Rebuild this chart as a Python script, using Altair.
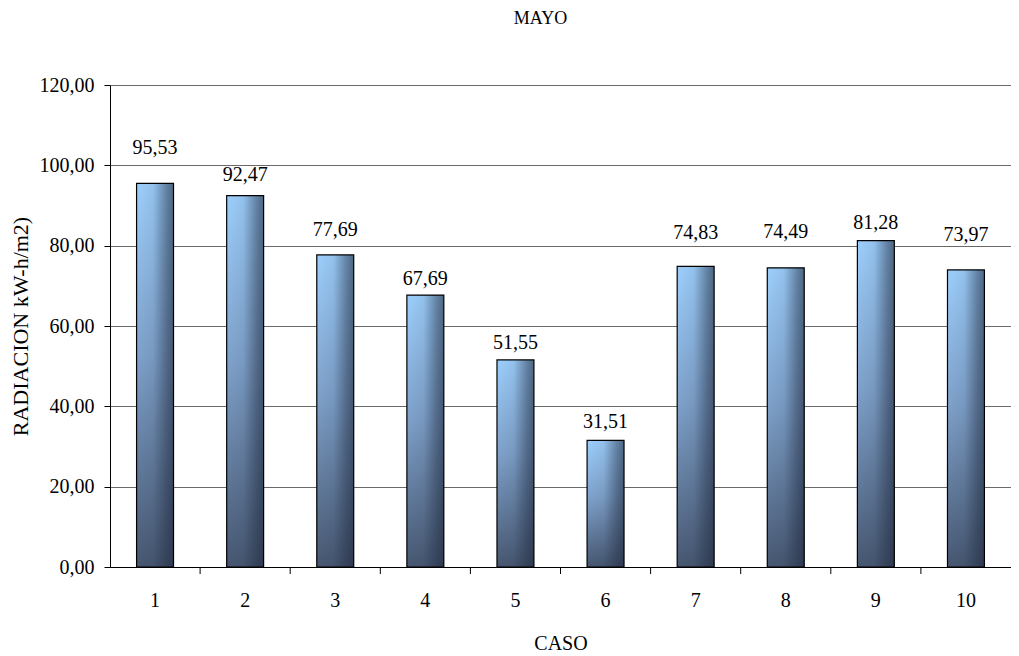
import altair as alt
import pandas as pd

casos = [1, 2, 3, 4, 5, 6, 7, 8, 9, 10]
radiacion = [95.53, 92.47, 77.69, 67.69, 51.55, 31.51, 74.83, 74.49, 81.28, 73.97]
# height (in data units) where each value label sits
etiqueta_pos = [104.3, 97.6, 83.9, 71.7, 55.8, 36.1, 83.2, 83.4, 85.6, 82.7]
y_ticks = [0, 20, 40, 60, 80, 100, 120]

df = pd.DataFrame({"caso": casos, "rad": radiacion, "pos": etiqueta_pos})
# categories whose left boundary carries an x-axis tick mark
df_lim = pd.DataFrame({"caso": casos[1:]})

FONT = "Liberation Serif"
FS = 20
P_IN = 0.59
W = 901
H = 482
STEP = W / len(casos)

x_scale = alt.Scale(domain=casos, paddingInner=P_IN, paddingOuter=P_IN / 2)
x_enc = alt.X(
    "caso:O",
    scale=x_scale,
    axis=alt.Axis(
        title="CASO", labelAngle=0, ticks=True, tickSize=7, tickOpacity=0,
        domainColor="black", domainWidth=1,
        labelFont=FONT, labelFontSize=FS, labelColor="black", labelPadding=16,
        titleFont=FONT, titleFontSize=FS, titleFontWeight="normal",
        titleColor="black", titlePadding=23, grid=False,
    ),
)
y_axis = alt.Axis(
    title="RADIACION kW-h/m2)", values=y_ticks, tickSize=6, tickColor="black",
    domainColor="black", grid=True, gridColor="#6a6a6a", gridWidth=1,
    labelFont=FONT, labelFontSize=FS, labelColor="black", labelPadding=10,
    labelExpr="replace(format(datum.value, '.2f'), '.', ',')",
    titleFont=FONT, titleFontSize=22, titleFontWeight="normal", titleColor="black",
    titlePadding=7,
)
y_scale = alt.Scale(domain=[0, 120], nice=False)

vgrad = alt.Gradient(
    gradient="linear",
    stops=[
        alt.GradientStop(color="#9DCFFC", offset=0),
        alt.GradientStop(color="#7FA2CB", offset=0.45),
        alt.GradientStop(color="#475771", offset=1),
    ],
    x1=0, x2=0, y1=0, y2=1,
)
hgrad = alt.Gradient(
    gradient="linear",
    stops=[
        alt.GradientStop(color="rgba(30,40,60,0)", offset=0),
        alt.GradientStop(color="rgba(30,40,60,0.08)", offset=0.45),
        alt.GradientStop(color="rgba(30,40,60,0.45)", offset=0.8),
        alt.GradientStop(color="rgba(30,40,60,0.62)", offset=1),
    ],
    x1=0, x2=1, y1=0, y2=0,
)

base = alt.Chart(df)
bars1 = base.mark_bar(color=vgrad).encode(
    x=x_enc, y=alt.Y("rad:Q", scale=y_scale, axis=y_axis)
)
bars2 = base.mark_bar(color=hgrad, stroke="black", strokeWidth=1.2).encode(
    x=x_enc, y=alt.Y("rad:Q", scale=y_scale, axis=y_axis)
)
labels = base.transform_calculate(
    lbl="replace(format(datum.rad, '.2f'), '.', ',')"
).mark_text(font=FONT, fontSize=FS, color="black", baseline="middle").encode(
    x=x_enc, y=alt.Y("pos:Q", scale=y_scale, axis=y_axis), text="lbl:N"
)
# tick marks between categories (Excel style)
ticks = alt.Chart(df_lim).mark_rule(
    color="black", strokeWidth=1, xOffset=-(P_IN / 2) * STEP
).encode(
    x=alt.X("caso:O", scale=x_scale, bandPosition=0),
    y=alt.datum(0, scale=y_scale),
    y2=alt.value(H + 7),
)

chart = (
    alt.layer(bars1, bars2, labels, ticks)
    .properties(
        width=W,
        height=H,
        title=alt.TitleParams(
            "MAYO", font=FONT, fontSize=18, fontWeight="normal", color="black",
            dx=-20, offset=47,
        ),
        autosize="none",
        padding={"left": 102, "top": 77, "right": 0, "bottom": 89},
    )
    .configure_view(stroke=None)
)

chart.save("out.html", embed_options={"renderer": "svg", "actions": False})
